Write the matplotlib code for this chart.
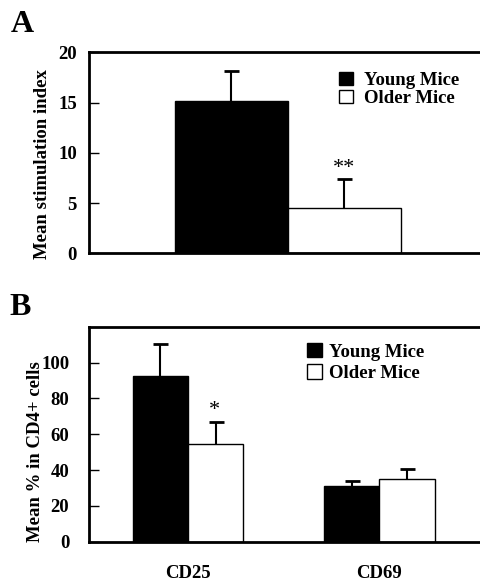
import matplotlib
matplotlib.use("Agg")
import matplotlib.pyplot as plt
import numpy as np

plt.rcParams['font.family'] = ['Liberation Serif', 'DejaVu Serif']
plt.rcParams['font.weight'] = 'bold'

# Panel A data
a_series = ["Young Mice", "Older Mice"]
a_values = [15.15, 4.55]
a_errors = [2.95, 2.85]
a_signif = ["", "**"]

# Panel B data
b_categories = ["CD25", "CD69"]
b_young = [92.5, 30.9]
b_young_err = [18.0, 3.1]
b_older = [54.8, 35.1]
b_older_err = [12.1, 5.6]
b_signif_older = ["*", ""]

W, H = 481, 581
fig = plt.figure(figsize=(W / 100, H / 100), dpi=100)

FS = 13.5
colors = ["black", "white"]


def px_axes(left, top, right, bottom):
    return fig.add_axes([left / W, 1 - bottom / H, (right - left) / W, (bottom - top) / H])


def style(ax, pad):
    ax.spines['right'].set_visible(False)
    for s in ['left', 'top', 'bottom']:
        ax.spines[s].set_linewidth(2)
    ax.tick_params(axis='y', direction='in', length=7, width=1, labelsize=FS, pad=pad)
    for lab in ax.get_yticklabels():
        lab.set_fontweight('bold')


def upper_errorbar(ax, x, vals, errs):
    vals = np.atleast_1d(np.asarray(vals, dtype=float))
    errs = np.atleast_1d(np.asarray(errs, dtype=float))
    _, caps, _ = ax.errorbar(x, vals, yerr=[np.zeros_like(errs), errs], fmt='none',
                             ecolor='black', elinewidth=1.5, capsize=5.4, capthick=2,
                             zorder=1)
    for cl in caps:
        if np.allclose(np.asarray(cl.get_ydata(), dtype=float), vals):
            cl.set_visible(False)


# ---------- Panel A ----------
axA = px_axes(89.3, 52.3, 485, 253.3)
wA = 0.4
xA = np.array([-wA / 2, wA / 2])
handlesA = []
for i in range(2):
    b = axA.bar(xA[i], a_values[i], width=wA, color=colors[i], edgecolor='black',
                linewidth=1, zorder=2)
    handlesA.append(b[0])
    upper_errorbar(axA, [xA[i]], [a_values[i]], [a_errors[i]])
    if a_signif[i]:
        axA.annotate(a_signif[i], (xA[i], a_values[i] + a_errors[i]), xytext=(0, 1),
                     textcoords='offset points', ha='center', va='bottom', fontsize=16,
                     fontweight='normal')
axA.set_xlim(-0.702, 0.698)
axA.set_ylim(0, 20)
axA.set_yticks([0, 5, 10, 15, 20])
axA.set_xticks([])
style(axA, 9)
axA.legend(handles=handlesA, labels=a_series, loc='upper left',
           bbox_to_anchor=(339.3 / W, 1 - 72 / H), bbox_transform=fig.transFigure,
           frameon=False, borderpad=0, borderaxespad=0, handlelength=0.75, handleheight=0.7,
           handletextpad=0.55, labelspacing=0.05, prop={'size': FS, 'weight': 'bold'})
fig.text(43 / W, 1 - 164 / H, "Mean stimulation index", rotation=90, ha='center', va='center',
         fontsize=FS, fontweight='bold')
fig.text(11 / W, 1 - 10 / H, "A", ha='left', va='top', fontsize=23, fontweight='bold')

# ---------- Panel B ----------
axB = px_axes(89.3, 326.7, 485, 541.7)
wB = 0.29
xB = np.arange(len(b_categories))
bY = axB.bar(xB - wB / 2, b_young, width=wB, color='black', edgecolor='black', linewidth=1,
             zorder=2)
bO = axB.bar(xB + wB / 2, b_older, width=wB, color='white', edgecolor='black', linewidth=1,
             zorder=2)
upper_errorbar(axB, xB - wB / 2, b_young, b_young_err)
upper_errorbar(axB, xB + wB / 2, b_older, b_older_err)
for i, s in enumerate(b_signif_older):
    if s:
        axB.annotate(s, (xB[i] + wB / 2, b_older[i] + b_older_err[i]), xytext=(-1, 1),
                     textcoords='offset points', ha='center', va='bottom', fontsize=16,
                     fontweight='normal')
axB.set_xlim(-0.516, 1.553)
axB.set_ylim(0, 120)
axB.set_yticks([0, 20, 40, 60, 80, 100])
axB.set_xticks(xB)
axB.set_xticklabels(b_categories, fontsize=FS, fontweight='bold')
axB.tick_params(axis='x', length=0, pad=16.5)
style(axB, 14.5)
axB.legend(handles=[bY[0], bO[0]], labels=a_series, loc='upper left',
           bbox_to_anchor=(307.3 / W, 1 - 343 / H), bbox_transform=fig.transFigure,
           frameon=False, borderpad=0, borderaxespad=0, handlelength=0.8, handleheight=0.8,
           handletextpad=0.35, labelspacing=0.2, prop={'size': FS, 'weight': 'bold'})
fig.text(35.5 / W, 1 - 452 / H, "Mean % in CD4+ cells", rotation=90, ha='center', va='center',
         fontsize=FS, fontweight='bold')
fig.text(9 / W, 1 - 293 / H, "B", ha='left', va='top', fontsize=23, fontweight='bold')

fig.savefig("out.png", dpi=100)
